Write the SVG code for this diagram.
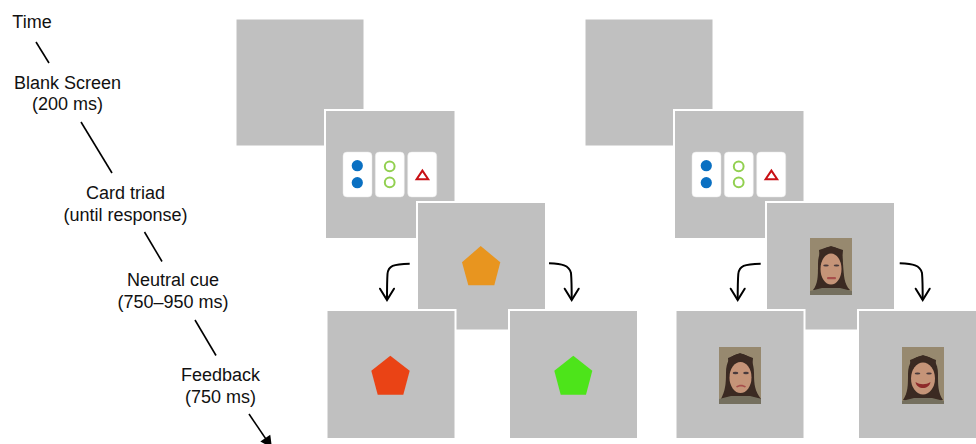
<svg xmlns="http://www.w3.org/2000/svg" width="976" height="444" viewBox="0 0 976 444">
  <style>
    text { font-family: "Liberation Sans", Arial, sans-serif; font-size: 18px; fill: #111; text-anchor: middle; }
    .panel { fill: #c0c0c0; stroke: #fff; stroke-width: 2; }
    .card { fill: #fff; stroke: #e6e6e6; stroke-width: 0.5; }
    .blue { fill: #0a70c2; }
    .ring { fill: none; stroke: #92d050; stroke-width: 2; }
    .tri { fill: none; stroke: #c80f14; stroke-width: 2; }
    .time { stroke: #000; stroke-width: 1.6; fill: none; }
    .turn { stroke: #000; stroke-width: 2; fill: none; marker-end: url(#open); }
    .photo { fill: #97896f; }
    .hair { fill: #3a2a22; }
    .skin { fill: #c59478; }
    .shirt { fill: #75705f; }
    .eye { fill: #4a3a3c; }
    .lip { fill: #a8504c; }
    .smile { fill: #8e2a2c; }
  </style>
  <defs>
    <marker id="open" markerUnits="userSpaceOnUse" markerWidth="30" markerHeight="30" viewBox="-15 -15 30 30" refX="0" refY="0" orient="auto" overflow="visible">
      <path d="M-11.3,-7 L0,0 L-11.3,7" fill="none" stroke="#000" stroke-width="2" stroke-linecap="round"/>
    </marker>
    <marker id="solid" markerUnits="userSpaceOnUse" markerWidth="20" markerHeight="20" viewBox="-14 -10 20 20" refX="0" refY="0" orient="auto" overflow="visible">
      <path d="M-12,-6 L0,0 L-12,6 Z" fill="#000"/>
    </marker>
    <filter id="soft" x="-10%" y="-10%" width="120%" height="120%"><feGaussianBlur stdDeviation="0.7"/></filter>
    <clipPath id="pc"><rect width="42" height="57"/></clipPath>
    <g id="cards">
      <rect class="card" x="343" y="152" width="29" height="45" rx="4"/>
      <rect class="card" x="375.3" y="152" width="29" height="45" rx="4"/>
      <rect class="card" x="407.7" y="152" width="29" height="45" rx="4"/>
      <circle class="blue" cx="357.3" cy="165.7" r="5.6"/>
      <circle class="blue" cx="357.3" cy="182.7" r="5.6"/>
      <circle class="ring" cx="389.7" cy="166.3" r="4.9"/>
      <circle class="ring" cx="389.7" cy="182.3" r="4.9"/>
      <path class="tri" d="M422.4,170.6 L416.6,179.3 L428.2,179.3 Z"/>
    </g>
  </defs>

  <g id="labels">
    <text x="32" y="28">Time</text>
    <text x="67.5" y="89">Blank Screen</text>
    <text x="67.5" y="110">(200 ms)</text>
    <text x="125.5" y="199">Card triad</text>
    <text x="125.5" y="221">(until response)</text>
    <text x="173" y="286">Neutral cue</text>
    <text x="173" y="308">(750–950 ms)</text>
    <text x="220.5" y="381">Feedback</text>
    <text x="220.5" y="403">(750 ms)</text>
  </g>

  <g id="shape-blank"><rect class="panel" x="235.5" y="18.5" width="129" height="128"/></g>
  <g id="shape-cards"><rect class="panel" x="325" y="110" width="130.500" height="129"/><use href="#cards"/></g>
  <g id="shape-cue"><rect class="panel" x="417" y="202" width="129" height="128.500"/>
    <path fill="#e8951f" d="M480.7,246 L500.3,262.300 L494.300,285.300 L468.300,285.300 L462,262.300 Z"/></g>
  <g id="shape-loss"><rect class="panel" x="326.500" y="310" width="129" height="129"/>
    <path fill="#ea4315" d="M390.300,355.700 L409.700,370.700 L403.300,394.700 L377.700,394.700 L371.300,370.700 Z"/></g>
  <g id="shape-win"><rect class="panel" x="509" y="310" width="129" height="129"/>
    <path fill="#4de41a" d="M573.300,355.700 L592.300,370.700 L586,394.700 L560.700,394.700 L554.300,370.700 Z"/></g>

  <g id="face-blank"><rect class="panel" x="584.500" y="18.500" width="129" height="128"/></g>
  <g id="face-cards"><rect class="panel" x="674" y="110" width="130.500" height="129"/><use href="#cards" x="349"/></g>
  <g id="face-cue"><rect class="panel" x="766" y="202" width="129" height="128.500"/>
    <g transform="translate(810 238)" clip-path="url(#pc)">
      <rect class="photo" width="42" height="57"/>
      <g filter="url(#soft)">
        <path class="hair" d="M21,9 C12,9 8,15 8,26 C8,38 8,46 3,52 L10,54 L32,54 L40,52 C34,46 34,38 33,26 C33,15 30,9 21,9 Z"/>
        <path class="shirt" d="M0,53 L12,50 L30,50 L42,53 V57 H0 Z"/>
        <ellipse class="skin" cx="21" cy="31" rx="10.500" ry="15.500"/>
        <path class="hair" d="M10,24 C13,17 17,15 21,14 C26,15 29,18 32,25 L33,12 L21,8 L9,12 Z"/>
        <ellipse class="eye" cx="16" cy="27.500" rx="2.800" ry="1.100"/>
        <ellipse class="eye" cx="26.500" cy="27.500" rx="2.800" ry="1.100"/>
        <rect class="lip" x="17" y="39" width="9" height="2.200" rx="1"/>
      </g>
    </g></g>
  <g id="face-negative"><rect class="panel" x="675.500" y="310" width="129" height="129"/>
    <g transform="translate(719 347)" clip-path="url(#pc)">
      <rect class="photo" width="43" height="57"/>
      <g filter="url(#soft)">
        <path class="hair" d="M21,7 C11,7 7,15 7,26 C7,38 6,44 2,52 L10,54 L33,54 L42,52 C36,44 35,38 35,26 C35,15 31,7 21,7 Z"/>
        <path class="shirt" d="M0,52 L12,49 L31,49 L43,52 V57 H0 Z"/>
        <ellipse class="skin" cx="21.500" cy="30.500" rx="11" ry="15.500"/>
        <path class="hair" d="M10,24 C13,17 17,14 21,13 C26,14 30,17 33,24 L34,11 L21,6 L9,11 Z"/>
        <ellipse class="eye" cx="16.500" cy="26" rx="2.800" ry="1.200"/>
        <ellipse class="eye" cx="27" cy="26" rx="2.800" ry="1.200"/>
        <path class="lip" d="M17,39.500 C20,37 24,37 27,39.500 L26,40.500 C24,39 20,39 18,40.500 Z"/>
      </g>
    </g></g>
  <g id="face-positive"><rect class="panel" x="858" y="310" width="129" height="129"/>
    <g transform="translate(902 347)" clip-path="url(#pc)">
      <rect class="photo" width="42" height="57"/>
      <g filter="url(#soft)">
        <path class="hair" d="M21,9 C11,9 6,16 6,27 C6,38 6,46 1,53 L10,55 L32,55 L41,53 C36,46 36,38 36,27 C36,16 31,9 21,9 Z"/>
        <path class="shirt" d="M0,54 L12,51 L30,51 L42,54 V57 H0 Z"/>
        <ellipse class="skin" cx="21" cy="31.500" rx="12" ry="16"/>
        <path class="hair" d="M9,25 C12,18 17,15 21,14 C26,15 30,18 33,25 L34,13 L21,8 L8,13 Z"/>
        <ellipse class="eye" cx="15.500" cy="26.500" rx="2.800" ry="1.100"/>
        <ellipse class="eye" cx="27" cy="26.500" rx="2.800" ry="1.100"/>
        <path class="smile" d="M13.500,35 C18,38 24,38 28.500,35 C27,43 15,43 13.500,35 Z"/>
      </g>
    </g></g>

  <g id="connectors">
    <path class="time" d="M36,42 L49,63"/>
    <path class="time" d="M81,122 L112,173"/>
    <path class="time" d="M144.500,232 L162,261.500"/>
    <path class="time" d="M195,320 L216,355.500"/>
    <path class="time" d="M249,414 L272,448" marker-end="url(#solid)"/>
    <path class="turn" d="M409.700,263.700 C393,264 388.300,266 387.500,274 C387,281 387,290 387,300"/>
    <path class="turn" d="M549,263.300 C562,264 569,265 571,273 C571.700,281 571.700,290 571.700,300"/>
    <path class="turn" d="M760.700,263.700 C744,264 739.300,266 738.300,274 C737.700,281 737.700,290 737.700,300"/>
    <path class="turn" d="M899.700,263.300 C913,264 920,265 922,273 C922.700,281 922.700,290 922.700,300"/>
  </g>
</svg>
